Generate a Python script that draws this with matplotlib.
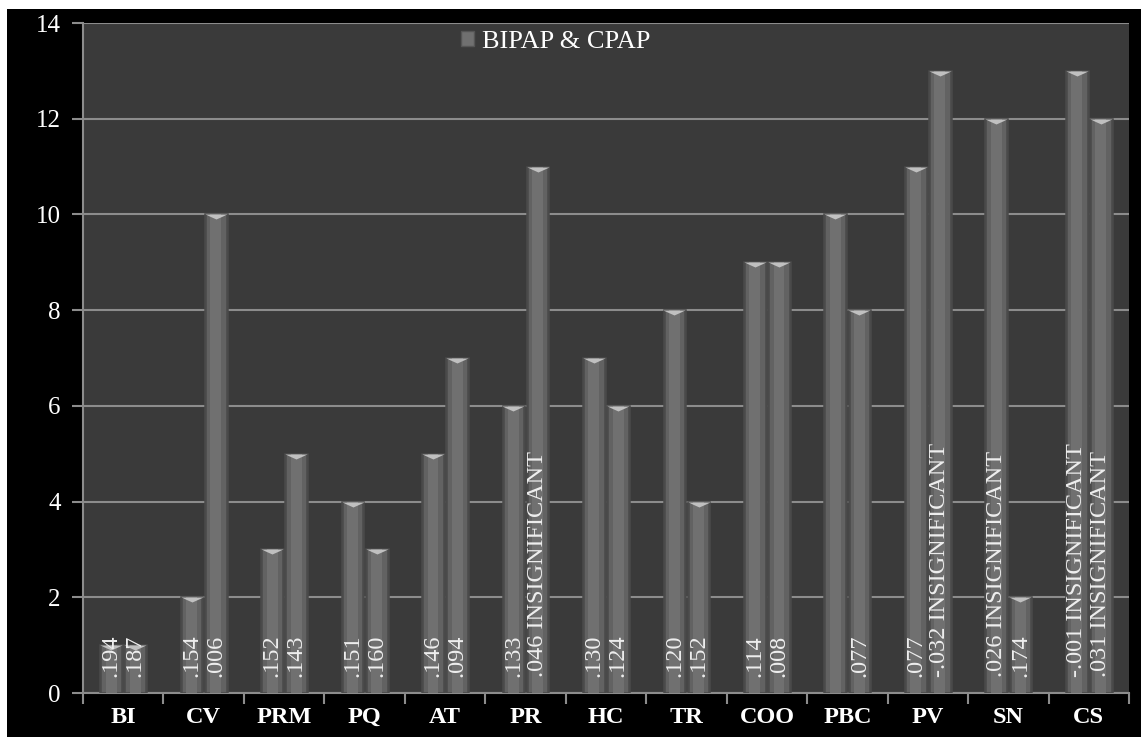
import matplotlib
matplotlib.use("Agg")
import matplotlib.pyplot as plt
from matplotlib.patches import Rectangle, Patch
import numpy as np

categories = ["BI", "CV", "PRM", "PQ", "AT", "PR", "HC", "TR", "COO", "PBC", "PV", "SN", "CS"]
series1 = [1, 2, 3, 4, 5, 6, 7, 8, 9, 10, 11, 12, 13]
series2 = [1, 10, 5, 3, 7, 11, 6, 4, 9, 8, 13, 2, 12]
labels1 = [".194", ".154", ".152", ".151", ".146", ".133", ".130", ".120", ".114", "",
           ".077", ".026 INSIGNIFICANT", "-.001 INSIGNIFICANT"]
labels2 = [".187", ".006", ".143", ".160", ".094", ".046 INSIGNIFICANT", ".124", ".152",
           ".008", ".077", "-.032 INSIGNIFICANT", ".174", ".031 INSIGNIFICANT"]
legend_label = "BIPAP & CPAP"
yticks = [0, 2, 4, 6, 8, 10, 12, 14]

W, H = 1143, 737
fig = plt.figure(figsize=(W / 100, H / 100), dpi=100, facecolor="white")
fig.patches.append(Rectangle((7 / W, 0), 1134 / W, 728 / H, transform=fig.transFigure,
                             facecolor="black", edgecolor="none", zorder=-10))
ax = fig.add_axes([83 / W, 44 / H, 1046 / W, 670 / H])
ax.set_zorder(5)
ax.set_facecolor("#3a3a3a")

serif = "Liberation Serif"
x = np.arange(len(categories))
bw = 0.27
off = 0.15
barcol = "#626262"
edgecol = "#4a4a4a"
capcol = "#c0c0c0"
cap = [(-1, 0), (1, 0), (0, -0.45)]

for xs, vals, labs in [(x - off, series1, labels1), (x + off, series2, labels2)]:
    ax.bar(xs, vals, width=bw, color=barcol, edgecolor=edgecol, linewidth=1.8, zorder=3)
    ax.bar(xs, vals, width=bw * 0.5, color="#707070", edgecolor="none", zorder=3.1)
    ax.plot(xs, vals, linestyle="none", marker=cap, markersize=16, color=capcol,
            markeredgewidth=0, zorder=4)
    for xi, lab in zip(xs, labs):
        if lab:
            ax.text(xi, 0.33, lab, rotation=90, ha="center", va="bottom",
                    color="#eeeeee", fontsize=17.5, family=serif, zorder=5)

ax.set_xlim(-0.5, len(categories) - 0.5)
ax.set_ylim(0, 14)
ax.set_yticks(yticks)
ax.set_yticklabels([str(t) for t in yticks])
ax.yaxis.grid(True, color="#8c8c8c", linewidth=1.5, zorder=1)
ax.set_axisbelow(True)

ax.set_xticks(np.arange(len(categories) + 1) - 0.5)
ax.set_xticklabels([])
ax.set_xticks(x, minor=True)
ax.set_xticklabels(categories, minor=True)
ax.tick_params(axis="x", which="minor", length=0, pad=10, labelsize=17.5,
               labelcolor="white")
ax.tick_params(axis="x", which="major", length=8, width=1.5, color="#8c8c8c")
ax.tick_params(axis="y", length=8, width=1.5, color="#8c8c8c", pad=8,
               labelsize=18, labelcolor="white")
for lab in ax.get_xticklabels(minor=True):
    lab.set_family(serif)
    lab.set_fontweight("bold")
for lab in ax.get_yticklabels():
    lab.set_family(serif)

for s in ["top", "right"]:
    ax.spines[s].set_visible(False)
for s in ["left", "bottom"]:
    ax.spines[s].set_color("#8c8c8c")
    ax.spines[s].set_linewidth(1.5)

leg = ax.legend(handles=[Patch(facecolor="#707070", edgecolor="#555555", label=legend_label)],
                loc="upper center", bbox_to_anchor=(0.452, 1.016), frameon=False,
                borderpad=0.2, handlelength=0.5, handleheight=0.5, handletextpad=0.3,
                prop={"family": serif, "size": 19})
for t in leg.get_texts():
    t.set_color("white")

fig.savefig("out.png", dpi=100, facecolor=fig.get_facecolor())
